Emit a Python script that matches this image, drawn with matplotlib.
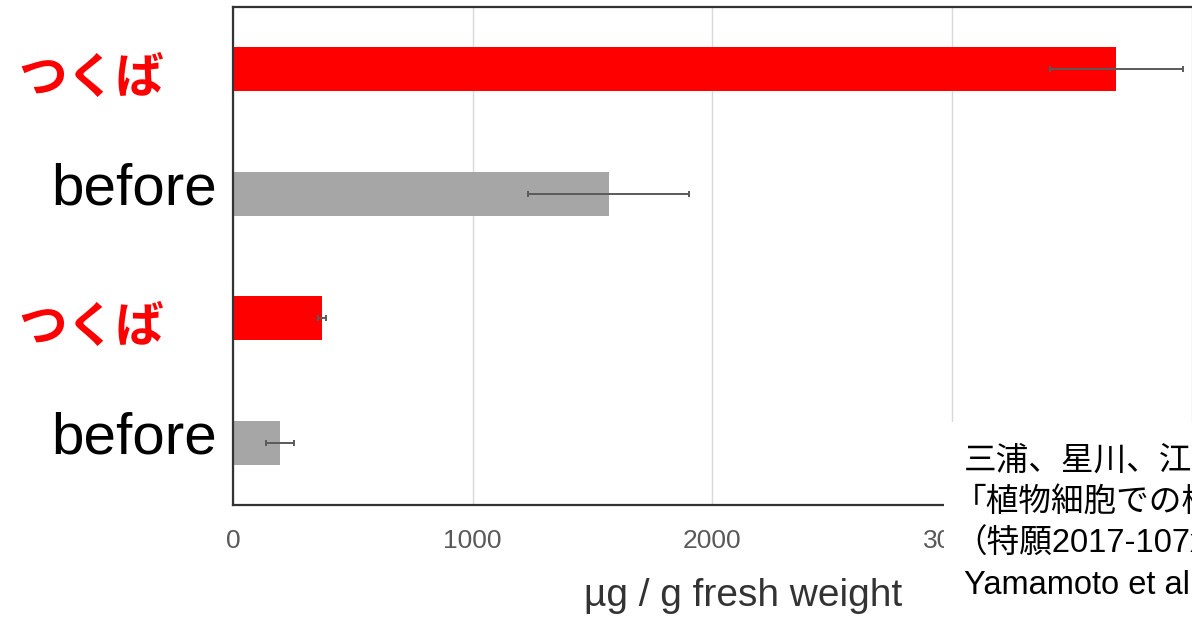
import matplotlib
matplotlib.use('Agg')
import matplotlib.pyplot as plt
from matplotlib.patches import Rectangle

plt.rcParams['font.family'] = ['Liberation Sans', 'Noto Sans CJK JP', 'DejaVu Sans']

# 上から順に
labels = ['つくば', 'before', 'つくば', 'before']
values = [3685, 1567, 371, 197]
errors = [277, 335, 17, 59]
bar_colors = ['#ff0000', '#a6a6a6', '#ff0000', '#a6a6a6']
xticks = [0, 1000, 2000, 3000, 4000]
xticklabels = ['0', '1000', '2000', '3000', '']  # 4000は注記の下に隠れる
xlabel = 'µg / g fresh weight'
note_lines = ['三浦、星川、江面ら', '「植物細胞での標的遺伝子改変」', '（特願2017-107xxx）', 'Yamamoto et al.']

W, H = 1192, 621
fig = plt.figure(figsize=(W / 100, H / 100), dpi=100)
ax = fig.add_axes([233 / W, 1 - 505 / H, 958.7 / W, 498 / H])

ypos = list(range(len(labels)))[::-1]
ax.barh(ypos, values, height=0.35, color=bar_colors, xerr=errors,
        error_kw=dict(ecolor='#5a5a5a', elinewidth=1.4, capsize=2.5, capthick=1.4))

ax.set_xlim(0, 4000)
ax.set_ylim(-0.5, len(labels) - 0.5)
ax.set_xticks(xticks)
ax.set_xticklabels(xticklabels, fontsize=19, color='#595959')
ax.tick_params(axis='x', length=0, pad=17)
ax.set_yticks([])
ax.grid(axis='x', color='#d9d9d9', lw=1)
ax.set_axisbelow(True)
for s in ['top', 'left', 'bottom']:
    ax.spines[s].set_color('#333333')
    ax.spines[s].set_linewidth(1.6)
ax.spines['right'].set_visible(False)

# 縦軸ラベル(手置き)
tr = ax.get_yaxis_transform()
for y, lab in zip(ypos, labels):
    if lab == 'つくば':
        ax.text(-0.2243, y - 0.072, lab, transform=tr, ha='left', va='center',
                fontsize=35, fontweight='bold', color='#ff0000',
                family=['Noto Sans CJK JP'])
    else:
        ax.text(-0.1899, y - 0.09, lab, transform=tr, ha='left', va='baseline',
                fontsize=42, color='black')

ax.text(0.532, -0.2028, xlabel, transform=ax.transAxes, ha='center',
        va='baseline', fontsize=28, color='#333333')

# 右下の注記
fig.patches.append(Rectangle((944 / W, 0), 1 - 944 / W, 1 - 422 / H,
                             transform=fig.transFigure, facecolor='white',
                             edgecolor='none', zorder=2))
note_x = [964, 954, 954, 964]
for i, line in enumerate(note_lines):
    fig.text(note_x[i] / W, 1 - (470 + 41.3 * i) / H, line, ha='left', va='baseline',
             fontsize=23.5, color='black', zorder=3)

fig.savefig('out.png', dpi=100)
